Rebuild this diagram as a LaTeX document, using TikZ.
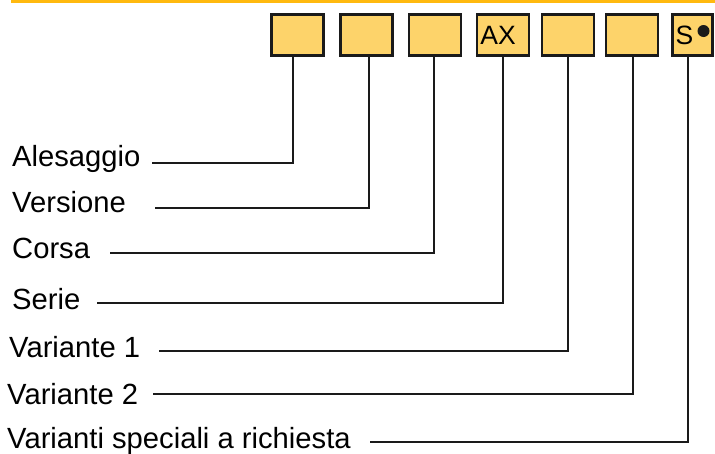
\documentclass[tikz,border=0pt]{standalone}
\usepackage{fontspec}
\setmainfont{Liberation Sans}
\definecolor{barorange}{RGB}{255,185,15}
\definecolor{boxfill}{RGB}{253,211,106}
\definecolor{ink}{RGB}{26,26,26}
\begin{document}
\begin{tikzpicture}[x=1pt,y=-1pt,
  code/.style={draw=ink,fill=boxfill,line width=2.8pt,minimum width=52pt,
    minimum height=41pt,inner sep=0pt,font=\fontsize{26.5}{27}\selectfont},
  lbl/.style={anchor=base west,inner sep=0pt,font=\fontsize{29.2}{30}\selectfont},
  lead/.style={draw=ink,line width=2.5pt}]
\useasboundingbox (0,0) rectangle (715,453);
% Orange bar on top
\fill[barorange] (11,0) rectangle (715,3.3);
% Code boxes
\node[code] (bore) at (297.5,35) {};
\node[code] (vers) at (366.5,35) {};
\node[code] (strk) at (435,35) {};
\node[code] (ser)  at (503,35) {AX\kern10pt};
\node[code] (var1) at (568,35) {};
\node[code] (var2) at (632,35) {};
\node[code,minimum width=40pt] (spec) at (692.5,35) {S\kern16pt};
\fill[ink] ([xshift=11pt,yshift=4pt]spec.center) circle (6pt);
% Labels
\node[lbl] (l1) at (12,166) {Alesaggio};
\node[lbl] (l2) at (12,212) {Versione};
\node[lbl] (l3) at (12,258) {Corsa};
\node[lbl] (l4) at (12,309) {Serie};
\node[lbl] (l5) at (9,357)  {Variante 1};
\node[lbl] (l6) at (7,404)  {Variante 2};
\node[lbl] (l7) at (7,448)  {Varianti speciali a richiesta};
% Start points of the leaders
\coordinate (s1) at (152,163);
\coordinate (s2) at (155,208);
\coordinate (s3) at (110,253);
\coordinate (s4) at (97,303);
\coordinate (s5) at (159,351);
\coordinate (s6) at (153,394);
\coordinate (s7) at (370,442);
% Leaders from labels up to the boxes
\draw[lead] (s1) -| ([xshift=-4.5pt]bore.south);
\draw[lead] (s2) -| ([xshift=2.5pt]vers.south);
\draw[lead] (s3) -| ([xshift=-1pt]strk.south);
\draw[lead] (s4) -| (ser.south);
\draw[lead] (s5) -| (var1.south);
\draw[lead] (s6) -| ([xshift=1pt]var2.south);
\draw[lead] (s7) -| ([xshift=-4.5pt]spec.south);
\end{tikzpicture}
\end{document}
